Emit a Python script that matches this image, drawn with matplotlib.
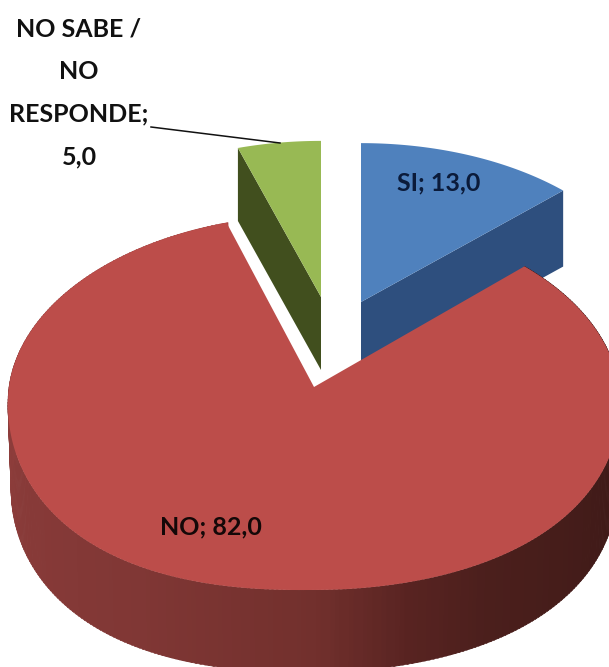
import numpy as np
import matplotlib
matplotlib.use("Agg")
import matplotlib.pyplot as plt
from matplotlib.colors import LinearSegmentedColormap

categories = ["SI", "NO", "NO SABE /\nNO\nRESPONDE;"]
values = [13.0, 82.0, 5.0]

W, H = 609, 667
P = 0.0826
fig = plt.figure(figsize=(W / 100, H / 100), dpi=100)
ax = fig.add_axes([0, 0, 1, 1])
ax.set_xlim(0, W)
ax.set_ylim(H, 0)
ax.axis("off")

ends = np.cumsum(values) / sum(values) * 360.0
starts = ends - np.array(values) / sum(values) * 360.0


def project(theta_deg, apex, a, c, drop=0.0, shrink=1.0, sag=False):
    t = np.radians(theta_deg)
    X, Y = np.sin(t), np.cos(t)
    den = 1 + P * Y
    y = apex[1] + drop - shrink * c * Y / den
    if sag:
        # the front rim of the photographed chart hangs a little lower at the sides
        front = np.maximum(-Y, 0)
        y = y + 30 * np.maximum(-X, 0) ** 1.5 * front + 18 * np.maximum(X, 0) ** 2 * front
    return apex[0] + shrink * a * X / den, y


def draw_slice(start, end, apex, a, c, depth, top, wall=None, wall_cmap=None, cut=None, z=1, sag=False):
    th = np.linspace(start, end, 400)
    if wall_cmap is not None:
        edges = np.linspace(start, end, 361)
        for i in range(len(edges) - 1):
            t0, t1 = edges[i], edges[i + 1] + 0.3
            x0, y0 = project(t0, apex, a, c, sag=sag)
            x1, y1 = project(t1, apex, a, c, sag=sag)
            x2, y2 = project(t1, apex, a, c, depth, 0.99, sag=sag)
            x3, y3 = project(t0, apex, a, c, depth, 0.99, sag=sag)
            col = wall_cmap((edges[i] - start) / (end - start))
            ax.fill([x0, x1, x2, x3], [y0, y1, y2, y3], color=col, lw=0.4, zorder=z)
    if cut is not None:
        x0, y0 = project(cut, apex, a, c)
        ax.fill([apex[0], x0, x0, apex[0]],
                [apex[1], y0, y0 + depth, apex[1] + depth],
                color=wall, lw=0, zorder=z)
    x, y = project(th, apex, a, c, sag=sag)
    ax.fill(np.r_[apex[0], x], np.r_[apex[1], y], color=top, lw=0, zorder=z + 0.1)


# wall colours running clockwise from the right corner round the front to the left corner
red_wall = LinearSegmentedColormap.from_list("redwall", [
    (0.00, "#3d1816"), (0.20, "#3f1a18"), (0.34, "#4b1f1c"), (0.39, "#572321"),
    (0.45, "#72302d"), (0.56, "#803735"), (0.66, "#873a38"), (0.78, "#8f3e3c"),
    (0.88, "#a04442"), (1.00, "#a84745"),
])

# blue
draw_slice(starts[0], ends[0], (361, 302), 293, 172, 76, "#4f81bd",
           wall="#2e4f7e", cut=ends[0], z=1)
# green
draw_slice(starts[2], ends[2], (321, 297), 290, 169, 73, "#98b954",
           wall="#414f1e", cut=starts[2], z=2)
# red
draw_slice(starts[1], ends[1], (314, 387), 305, 186.2, 84, "#bc4d4a",
           wall_cmap=red_wall, z=3, sag=True)

font = ["Lato", "DejaVu Sans"]
txt = dict(family=font, fontweight="bold", fontsize=18, ha="center", va="center", zorder=10)
ax.text(439, 183, f"{categories[0]}; {values[0]:.1f}".replace(".", ","), color="#0b1b3a", **txt)
ax.text(211, 527, f"{categories[1]}; {values[1]:.1f}".replace(".", ","), color="#140808", **txt)
ax.text(79, 93, f"{categories[2]}\n{values[2]:.1f}".replace(".", ","), color="#111111",
        linespacing=2.04, **txt)
ax.plot([151, 280], [127, 143], color="#111111", lw=1.1, zorder=9)

fig.savefig("out.png", dpi=100)
